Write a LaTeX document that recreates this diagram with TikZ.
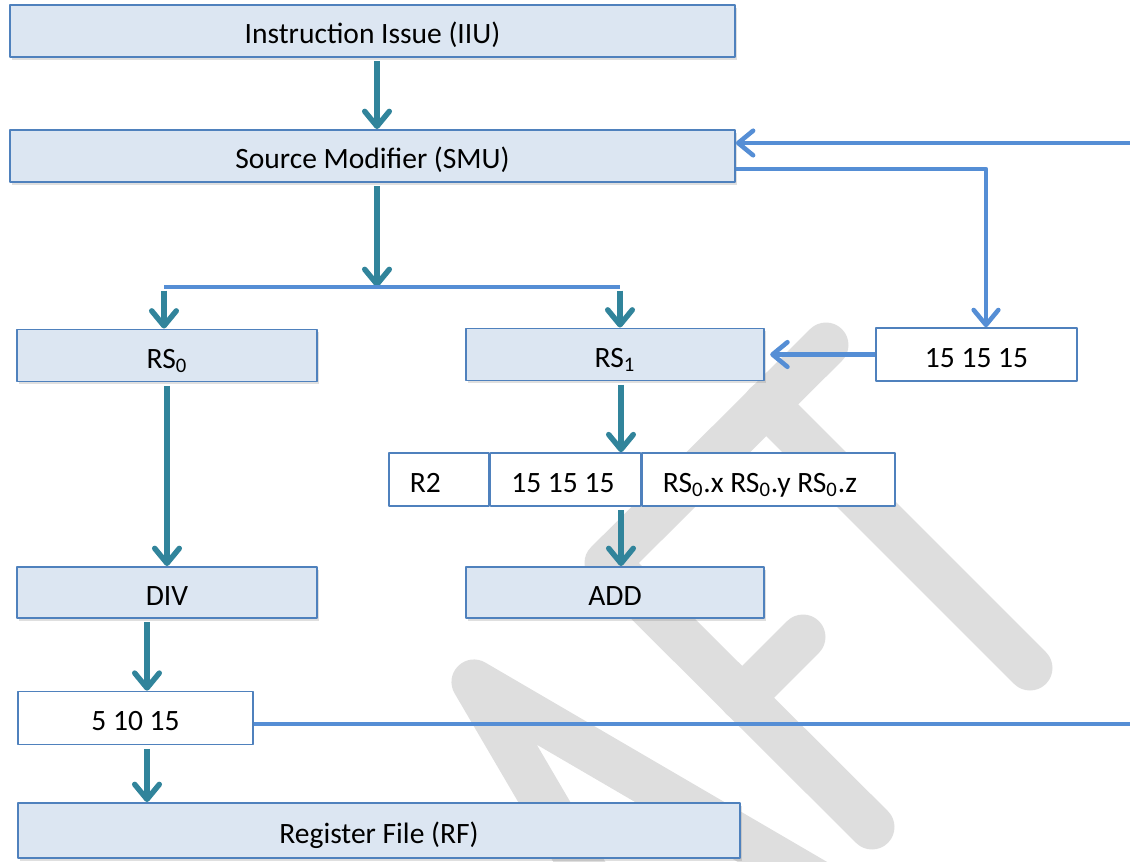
\documentclass[tikz,border=0pt]{standalone}
\usepackage{fontspec}
\setmainfont{Carlito}
\usetikzlibrary{arrows.meta,positioning,shadows}
\definecolor{boxfill}{HTML}{DCE6F2}
\definecolor{boxline}{HTML}{4F81BD}
\definecolor{flowteal}{HTML}{31849B}
\definecolor{fbblue}{HTML}{558ED5}
\definecolor{wmgray}{HTML}{DEDEDE}
\newcommand\natspace{\spaceskip=0pt\relax}
\begin{document}
\begin{tikzpicture}[x=0.02cm, y=-0.02cm, >={Straight Barb[length=8.5pt,width=14pt,round]},
	font=\fontsize{16.8}{19}\selectfont, line join=round,
	unit/.style={draw=boxline, line width=1.1pt, fill=boxfill, minimum width=6cm, minimum height=1.04cm,
		inner sep=0pt, text height=16pt, text depth=1.6pt,
		drop shadow={shadow xshift=1pt, shadow yshift=-1.5pt, opacity=0.25}},
	wide/.style={unit, minimum width=14.5cm},
	val/.style={draw=boxline, line width=0.9pt, fill=white, minimum height=1.06cm, inner sep=0pt,
		text height=16pt, text depth=1.6pt},
	cell/.style={val, align=left, inner xsep=0.42cm, text width=#1,
		execute at begin node=\natspace},
	flow/.style={->, draw=flowteal, line width=3.1pt, shorten <=2pt},
	fb/.style={draw=fbblue, line width=2.6pt},
	wm/.style={draw=wmgray, line width=0.9cm, line cap=round, line join=round}]
	\useasboundingbox (0,0) rectangle (1130,862);
	% watermark
	\begin{scope}
		\clip (0,0) rectangle (1130,862);
		\draw[wm] (826,345) -- (607,563) -- (872,827);
		\draw[wm] (742,698) -- (803,637);
		\draw[wm] (766,404) -- (1030,668);
		\draw[wm] (604,904) -- (474,682) -- (834,892);
	\end{scope}
	% units
	\node[wide] (iiu) at (372.5,31) {Instruction Issue (IIU)};
	\node[wide] (smu) at (372.5,156) {Source Modifier (SMU)};
	\node[unit] (rs0) at (167,355.5) {RS\textsubscript{0}};
	\node[unit, minimum width=5.96cm] (rs1) at (615,354.5) {RS\textsubscript{1}};
	\node[val, minimum width=4.02cm] (fwd) at (976.5,354.5) {15 15 15};
	\node[cell=1.16cm, anchor=west] (dst) at (388,479.5) {R2};
	\node[cell=2.16cm, right=0pt of dst] (vals) {15 15 15};
	\node[cell=4.22cm, right=0pt of vals] (tags) {RS\textsubscript{0}.x RS\textsubscript{0}.y RS\textsubscript{0}.z};
	\node[unit, minimum height=1.02cm] (div) at (167,592.5) {DIV};
	\node[unit, minimum width=5.96cm, minimum height=1.02cm] (add) at (615,592.5) {ADD};
	\node[val, minimum width=4.7cm] (res) at (135.5,718) {5 10 15};
	\node[wide, minimum width=14.44cm, minimum height=1.1cm] (rf) at (379,830.5) {Register File (RF)};
	% connectors
	\coordinate (split) at (377,287);
	\coordinate (br0) at (164,287);
	\coordinate (br1) at (620,287);
	\coordinate (col0) at (147,0);
	\coordinate (col1) at (621,0);
	\coordinate (fbin) at (1130,143);
	\coordinate (fbout) at (1130,724);
	\draw[flow] (iiu.south -| split) -- (smu.north -| split);
	\draw[flow] (smu.south -| split) -- (split);
	\draw[fb] (br0) -- (br1);
	\draw[flow] (br0) -- (br0 |- rs0.north);
	\draw[flow] (br1) -- (br1 |- rs1.north);
	\draw[fb,->] (fbin) -- (fbin -| smu.east);
	\draw[fb,->] ([yshift=-0.26cm]smu.east) -| ([xshift=0.19cm]fwd.north);
	\draw[fb,->, shorten >=3pt] (fwd) -- (rs1);
	\draw[flow] (rs1.south -| col1) -- (vals.north -| col1);
	\draw[flow] (vals.south -| col1) -- (add.north -| col1);
	\draw[flow] (rs0) -- (div);
	\draw[flow] (div.south -| col0) -- (res.north -| col0);
	\draw[flow] (res.south -| col0) -- (rf.north -| col0);
	\draw[fb] (res.east |- fbout) -- (fbout);
\end{tikzpicture}
\end{document}
